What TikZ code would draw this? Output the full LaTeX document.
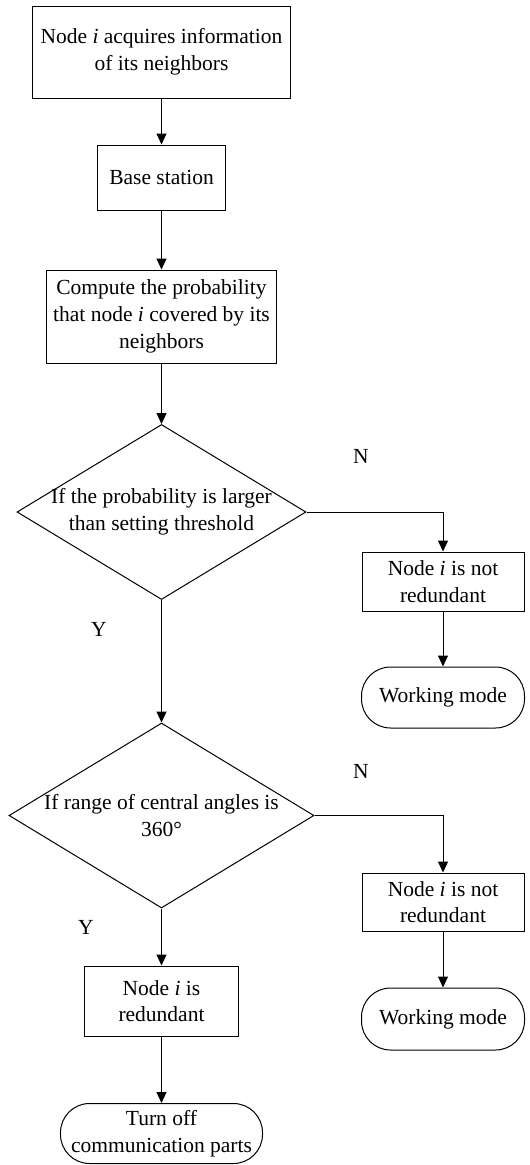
\documentclass[tikz,border=0pt]{standalone}
\usepackage{fontspec}
\setmainfont{Liberation Serif}
\usetikzlibrary{shapes.geometric,arrows.meta}
\begin{document}
\begin{tikzpicture}[x=1bp,y=-1bp,
  every node/.style={font=\fontsize{21.5bp}{26.7bp}\selectfont},
  proc/.style={draw,line width=1bp,rectangle,inner sep=0pt,align=center},
  term/.style={draw,line width=1bp,rectangle,rounded corners=29bp,inner sep=0pt,align=center},
  decision/.style={draw,line width=1bp,diamond,inner sep=0pt},
  flow/.style={line width=1bp,-{Triangle[length=11bp,width=10bp]}},
  lbl/.style={inner sep=0pt}]
\useasboundingbox (0,0) rectangle (530,1165);

% main column
\node[proc,minimum width=258bp,minimum height=92bp] (acq) at (161.5,52)
  {Node \textit{i} acquires information\\of its neighbors};
\node[proc,minimum width=128bp,minimum height=65bp] (bs) at (161.5,177.5) {Base station};
\node[proc,minimum width=230bp,minimum height=93bp] (cp) at (161.5,316.5)
  {Compute the probability\\that node \textit{i} covered by its\\neighbors};
\node[decision,minimum width=289bp,minimum height=175bp] (d1) at (161.5,512) {};
\node[align=center,inner sep=0pt] (d1t) at (d1.center) {If the probability is larger\\than setting threshold};
\node[decision,minimum width=305bp,minimum height=185bp] (d2) at (161.5,815.5) {};
\node[align=center,inner sep=0pt] (d2t) at (d2.center) {If range of central angles is\\360°};
\node[proc,minimum width=153bp,minimum height=70bp] (red) at (161.5,1001)
  {Node \textit{i} is\\redundant};
\node[term,minimum width=202bp,minimum height=60bp] (off) at (161.5,1133.5)
  {Turn off\\communication parts};

% right column
\node[proc,minimum width=162bp,minimum height=59bp] (nr1) at (443,581.5)
  {Node \textit{i} is not\\redundant};
\node[term,minimum width=163bp,minimum height=61bp] (wm1) at (443,697.5) {Working mode};
\node[proc,minimum width=162bp,minimum height=58bp] (nr2) at (443,902)
  {Node \textit{i} is not\\redundant};
\node[term,minimum width=163bp,minimum height=62bp] (wm2) at (443,1019) {Working mode};

% branch labels
\node[lbl] (n1) at (361,456) {N};
\node[lbl] (y1) at (99,629) {Y};
\node[lbl] (n2) at (361,771) {N};
\node[lbl] (y2) at (86,927) {Y};

% connectors
\draw[flow] (acq.south) -- (bs.north);
\draw[flow] (bs.south) -- (cp.north);
\draw[flow] (cp.south) -- (d1.north);
\draw[flow] (d1.east) -| (nr1.north);
\draw[flow] (nr1.south) -- (wm1.north);
\draw[flow] (d1.south) -- (d2.north);
\draw[flow] (d2.east) -| (nr2.north);
\draw[flow] (nr2.south) -- (wm2.north);
\draw[flow] (d2.south) -- (red.north);
\draw[flow] (red.south) -- (off.north);
\end{tikzpicture}
\end{document}
